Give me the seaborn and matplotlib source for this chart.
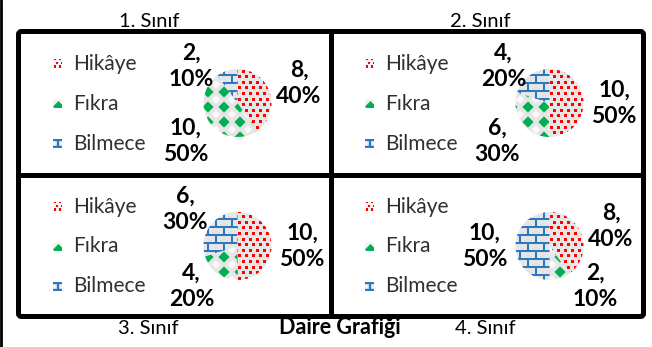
import numpy as np
import matplotlib
matplotlib.use("Agg")
import matplotlib.pyplot as plt
from matplotlib.patches import Rectangle, Polygon, FancyBboxPatch
from matplotlib.collections import PatchCollection, LineCollection
import seaborn as sns

# ---- data -------------------------------------------------------------
grades = ["1. Sınıf", "2. Sınıf", "3. Sınıf", "4. Sınıf"]
categories = ["Hikâye", "Fıkra", "Bilmece"]
hikaye = [8, 10, 10, 8]
fikra = [10, 6, 4, 2]
bilmece = [2, 4, 6, 10]
chart_title = "Daire Grafiği"

# ---- style ------------------------------------------------------------
sns.set_style("white")
plt.rcParams["font.family"] = ["Lato", "DejaVu Sans"]

W, H = 652, 347
RED, GREEN, BLUE = "#FF0000", "#00B050", "#2E78C2"
FACE = "#E6E6E6"
R = 34                      # pie radius in px
X_EDGES = [18.5, 330.5, 643.5]
Y_EDGES = [31.5, 174.5, 316.5]
FS_LEGEND = 15
FS_TITLE = 14.5
FS_LABEL = 16.5
FS_MAIN = 15.5


def Y(y):
    """Convert a top-down pixel row to the axes' bottom-up coordinate."""
    return H - y


fig = plt.figure(figsize=(W / 100, H / 100), dpi=100)
ax = fig.add_axes([0, 0, 1, 1])


def grid_range(lo, hi, step, org):
    return range(int(np.floor((lo - org) / step)) - 1, int(np.ceil((hi - org) / step)) + 2)


# ---- fill patterns ----------------------------------------------------
def add_dots(box, clip, step=(7.0, 5.6), size=3.0, origin=(0, 0)):
    x0, y0, x1, y1 = box
    sx, sy = step
    ox, oy = origin
    rects = []
    for j in grid_range(y0, y1, sy, oy):
        off = (j % 2) * sx / 2
        for i in grid_range(x0, x1, sx, ox):
            rects.append(Rectangle((ox + i * sx + off, oy + j * sy), size, size))
    pc = PatchCollection(rects, facecolor=RED, edgecolor="none", zorder=3)
    ax.add_collection(pc)
    pc.set_clip_path(clip)


def add_diamonds(box, clip, step=(16, 15), h=5.6, origin=(0, 0)):
    x0, y0, x1, y1 = box
    sx, sy = step
    ox, oy = origin
    green, white = [], []
    for j in grid_range(y0, y1, sy, oy):
        for i in grid_range(x0, x1, sx, ox):
            cx, cy = ox + i * sx, oy + j * sy
            green.append(Polygon([(cx - h, cy), (cx, cy + h), (cx + h, cy), (cx, cy - h)]))
            wx, wy, wh = cx + sx / 2, cy + sy / 2, h * 0.75
            white.append(Polygon([(wx - wh, wy), (wx, wy + wh), (wx + wh, wy), (wx, wy - wh)]))
    for polys, col in ((white, "#FAFAFA"), (green, GREEN)):
        pc = PatchCollection(polys, facecolor=col, edgecolor="none", zorder=3)
        ax.add_collection(pc)
        pc.set_clip_path(clip)


def add_bricks(box, clip, step=(16, 8), lw=1.45, origin=(0, 0)):
    x0, y0, x1, y1 = box
    bw, bh = step
    ox, oy = origin
    segs = []
    for j in grid_range(y0, y1, bh, oy):
        yb = oy + j * bh
        segs.append([(x0 - bw, yb), (x1 + bw, yb)])
        off = (j % 2) * bw / 2
        for i in grid_range(x0, x1, bw, ox):
            x = ox + i * bw + off
            segs.append([(x, yb), (x, yb + bh)])
    lc = LineCollection(segs, colors=BLUE, linewidths=lw, zorder=3)
    ax.add_collection(lc)
    lc.set_clip_path(clip)


patterns = [add_dots, add_diamonds, add_bricks]

# ---- pies -------------------------------------------------------------
for k, grade in enumerate(grades):
    col, row = k % 2, k // 2
    left, right = X_EDGES[col], X_EDGES[col + 1]
    top, bottom = Y_EDGES[row], Y_EDGES[row + 1]
    cx, cy = left + 219, top + 71.5

    vals = [hikaye[k], fikra[k], bilmece[k]]
    total = sum(vals)
    wedges, _ = ax.pie(vals, center=(cx, Y(cy)), radius=R, startangle=90,
                       counterclock=False, colors=[FACE] * 3,
                       wedgeprops=dict(linewidth=0, edgecolor="none"))
    box = (cx - R, Y(cy) - R, cx + R, Y(cy) + R)
    for w, fill in zip(wedges, patterns):
        fill(box, w)

    # data labels: value and share, kept inside the cell
    for v, w in zip(vals, wedges):
        mid = np.deg2rad((w.theta1 + w.theta2) / 2)
        dx, dy = 1.9 * R * np.cos(mid), -1.9 * R * np.sin(mid)
        ly = cy + dy
        lo, hi = top + 34.5, bottom - 30.5
        if ly < lo or ly > hi:
            ly = min(max(ly, lo), hi)
            dx = np.sign(dx) * max(abs(dx), 46)
        pct = round(100 * v / total)
        ax.text(cx + dx, Y(ly), f"{v},\n{pct}%", ha="center", va="center",
                fontsize=FS_LABEL, fontweight="bold", linespacing=1.3,
                color="black", zorder=5)

    # legend keys with small versions of the fills
    for n, (name, fill) in enumerate(zip(categories, patterns)):
        base = top + 38 + 40 * n
        ix, iy = left + 34.5, Y(base - 1.5)
        icon = Rectangle((ix, iy), 9, 9, facecolor="#F2F2F2",
                         edgecolor="none", zorder=3)
        ax.add_patch(icon)
        ibox = (ix - 6, iy - 6, ix + 15, iy + 15)
        if n == 0:
            fill(ibox, icon, step=(5.0, 3.6), size=2.4, origin=(ix + 0.5, iy + 0.5))
        elif n == 1:
            fill(ibox, icon, step=(14, 14), h=5.5, origin=(ix + 5.5, iy + 1.5))
        else:
            fill(ibox, icon, step=(12, 7), lw=1.7, origin=(ix + 4.5, iy + 1))
        ax.text(left + 54.5, Y(base), name, ha="left", va="baseline",
                fontsize=FS_LEGEND, color="#303030", zorder=5)

# ---- frame and titles -------------------------------------------------
frame = FancyBboxPatch((X_EDGES[0], Y(Y_EDGES[2])), X_EDGES[2] - X_EDGES[0],
                       Y_EDGES[2] - Y_EDGES[0], boxstyle="round,pad=0,rounding_size=3",
                       facecolor="none", edgecolor="black", linewidth=3.6, zorder=6)
ax.add_patch(frame)
ax.plot([X_EDGES[1], X_EDGES[1]], [Y(Y_EDGES[0]), Y(Y_EDGES[2])], color="black",
        lw=3.6, solid_capstyle="butt", zorder=6)
ax.plot([X_EDGES[0], X_EDGES[2]], [Y(Y_EDGES[1]), Y(Y_EDGES[1])], color="black",
        lw=3.6, solid_capstyle="butt", zorder=6)
ax.plot([1.3, 1.3], [0, H], color="black", lw=2.0, zorder=6)

title_pos = [(149.5, 26.5), (480, 26.5), (148, 333.5), (485, 333.5)]
for grade, (tx, ty) in zip(grades, title_pos):
    ax.text(tx, Y(ty), grade, ha="center", va="baseline", fontsize=FS_TITLE,
            color="black")
ax.text(340, Y(333.5), chart_title, ha="center", va="baseline",
        fontsize=FS_MAIN, fontweight="bold", color="black")

ax.set_xlim(0, W)
ax.set_ylim(0, H)
ax.set_aspect("auto")
ax.set_axis_off()
fig.savefig("out.png", dpi=100, facecolor="white")
